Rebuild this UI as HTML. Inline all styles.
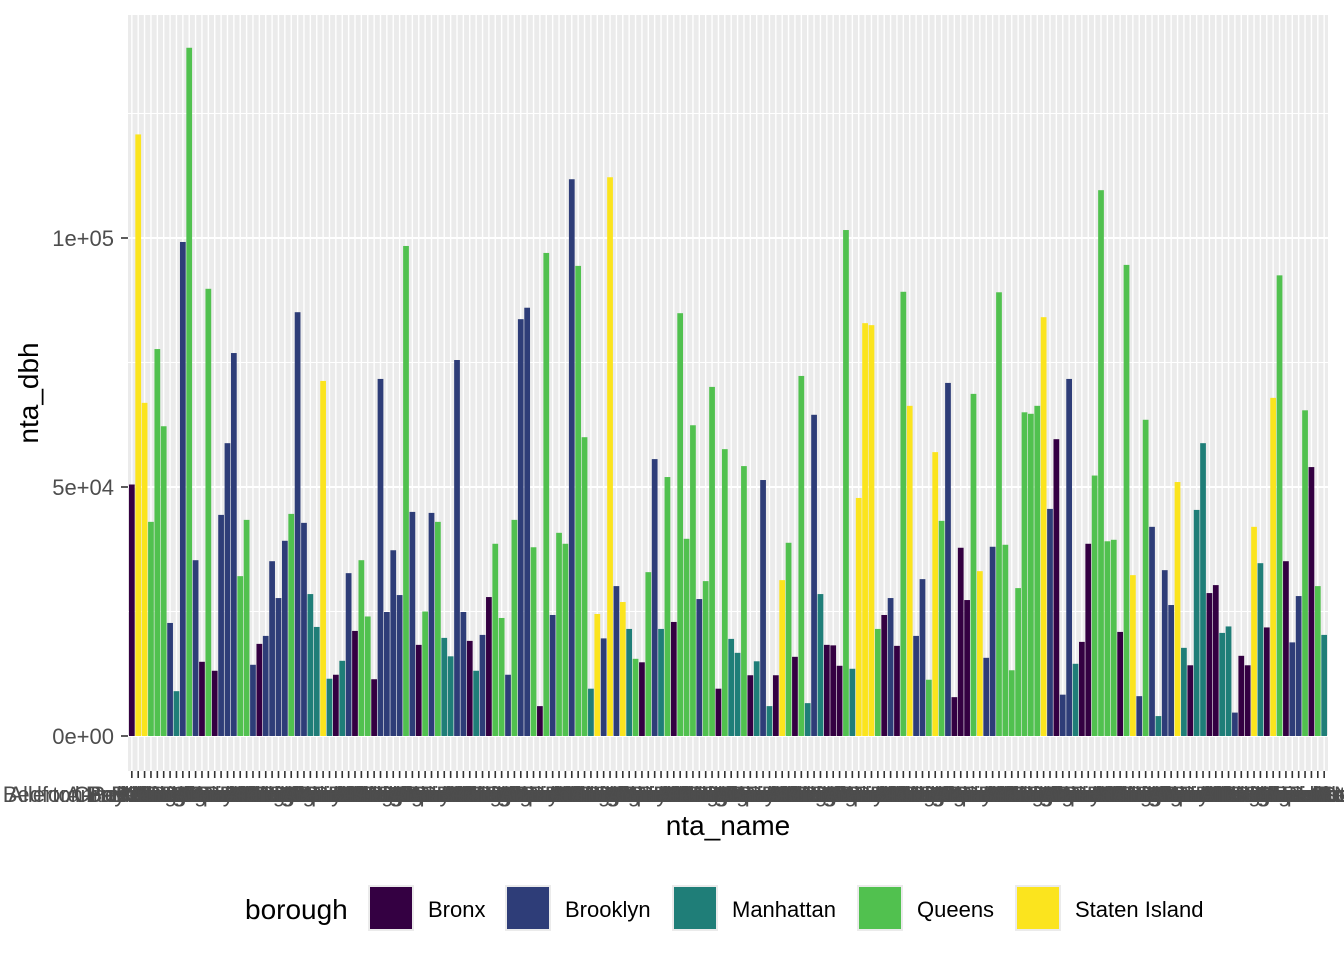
<!DOCTYPE html>
<html><head><meta charset="utf-8"><style>
html,body{margin:0;padding:0;background:#fff;}
svg{display:block;font-family:"Liberation Sans",sans-serif;}
</style></head><body>
<svg id="chart" width="1344" height="960" viewBox="0 0 1344 960">
<rect x="128" y="15" width="1200" height="756" fill="#ebebeb"/>
<g id="grid"></g><g id="bars"></g><g id="xaxis"></g><g id="yaxis"></g>
<text x="38" y="393" font-size="28" fill="#000" text-anchor="middle" transform="rotate(-90 38 393)">nta_dbh</text>
<text x="728" y="835" font-size="28" fill="#000" text-anchor="middle">nta_name</text>
<g id="legend">
<text x="245" y="919" font-size="28" fill="#000">borough</text>
</g>
</svg>
<script>
const boroughs = ["Bronx","Brooklyn","Manhattan","Queens","Staten Island"];
const colors = {"Bronx":"#340042","Brooklyn":"#2e3d78","Manhattan":"#1f7e78","Queens":"#51c14f","Staten Island":"#fbe41e"};
const yTicks = [0, 50000, 100000];
const yTickLabels = ["0e+00","5e+04","1e+05"];
const barBorough = ("X S S Q Q Q K M K Q K X Q X K K K Q Q K X K K K K Q K K M M S M X " +
 "M K X Q Q X K K K K Q K X Q K Q M M K K X M K X Q Q K Q K K Q X " +
 "Q K Q Q K Q Q M S K S K S M Q X Q K M Q X Q Q Q K Q Q X Q M M Q " +
 "X M K M X S Q X Q M K M X X X Q M S S S Q X K X Q S K K Q S Q K " +
 "X X X Q S K K Q Q Q Q Q Q Q S K X K K M X X Q Q Q Q X Q S K Q K M " +
 "K K S M X M M X X M M K X X S M X S Q X K K Q X Q M").trim().split(/\s+/);
const barValues = [
 50.5,120.8,66.9,43.0,77.7,62.2,22.7,9.0,99.2,138.2,35.3,14.9,89.8,13.1,44.4,58.8,76.9,32.1,43.4,14.3,18.5,20.1,35.1,27.7,39.2,44.6,85.1,42.8,28.5,21.9,71.3,11.5,12.3,
 15.1,32.7,21.1,35.3,24.0,11.4,71.7,24.9,37.3,28.3,98.4,45.0,18.3,25.0,44.8,43.0,19.7,16.0,75.5,24.9,19.1,13.1,20.3,27.9,38.6,23.7,12.3,43.4,83.7,86.0,37.9,6.0,
 97.0,24.3,40.8,38.6,111.8,94.4,60.0,9.5,24.5,19.6,112.2,30.1,26.9,21.5,15.5,14.8,32.9,55.6,21.5,52.0,22.9,84.9,39.6,62.4,27.5,31.1,70.1,9.5,57.6,19.5,16.7,54.2,
 12.2,15.0,51.4,6.0,12.2,31.3,38.8,15.9,72.3,6.6,64.5,28.5,18.3,18.2,14.1,101.6,13.5,47.8,82.9,82.5,21.5,24.3,27.7,18.1,89.2,66.3,20.1,31.5,11.3,57.0,43.2,70.9,
 7.8,37.8,27.3,68.7,33.1,15.7,38.0,89.1,38.4,13.2,29.7,65.0,64.7,66.3,84.1,45.6,59.6,8.3,71.7,14.5,18.9,38.6,52.3,109.6,39.1,39.4,20.9,94.6,32.3,8.0,63.5,42.0,4.0,
 33.3,26.3,51.0,17.7,14.2,45.4,58.8,28.7,30.3,20.7,22.0,4.7,16.1,14.2,42.0,34.7,21.8,67.9,92.5,35.1,18.8,28.1,65.4,54.0,30.1,20.3
].map(v => v * 1000);
const codeMap = {X:"Bronx",K:"Brooklyn",M:"Manhattan",Q:"Queens",S:"Staten Island"};
const nameWords = ["Allerton-Pelham Gardens","Bay Ridge","Bedford Park-Fordham North","Astoria","Bellerose","Annadale-Huguenot","Canarsie","Chinatown","Borough Park","Auburndale","Bath Beach","Belmont","Airport","Bronxdale","Brighton Beach","Bushwick North","Carroll Gardens-Columbia Street"];

const NS = "http://www.w3.org/2000/svg";
const X0 = 128, X1 = 1328, Y0 = 736, YTOP = 15, PBOT = 771;
const n = barValues.length;
const unit = (X1 - X0) / (n - 1 + 1.2);
function xScale(i){ return X0 + (i + 0.6) * unit; }
function yScale(v){ return Y0 - v / 100000 * 498; }
function mk(tag, attrs, parent){ const e = document.createElementNS(NS, tag); for (const k in attrs) e.setAttribute(k, attrs[k]); parent.appendChild(e); return e; }

const grid = document.getElementById("grid");
[25000, 75000, 125000].forEach(v => {
  const l = mk("line", {x1:X0, x2:X1, y1:yScale(v), y2:yScale(v), stroke:"#fff", "stroke-width":1}, grid);
  
  
});
yTicks.forEach(v => {
  const l = mk("line", {x1:X0, x2:X1, y1:yScale(v), y2:yScale(v), stroke:"#fff", "stroke-width":2}, grid);
  
  
});
for (let i = 0; i < n; i++) {
  const l = mk("line", {x1:xScale(i), x2:xScale(i), y1:YTOP, y2:PBOT, stroke:"#fff", "stroke-width":1.4}, grid);
  
  
}

const bars = document.getElementById("bars");
const bw = unit * 0.9;
for (let i = 0; i < n; i++) {
  const b = codeMap[barBorough[i]] || "Queens";
  const v = barValues[i];
  const r = mk("rect", {x:xScale(i) - bw/2, y:yScale(v), width:bw, height:Y0 - yScale(v), fill:colors[b]}, bars);
  
  
}

const xaxis = document.getElementById("xaxis");
for (let i = 0; i < n; i++) {
  const t = mk("line", {x1:xScale(i), x2:xScale(i), y1:PBOT, y2:PBOT + 7, stroke:"#333", "stroke-width":1.6}, xaxis);
  
  
  const lb = mk("text", {x:xScale(i), y:802, "font-size":22, fill:"#4d4d4d", "text-anchor":"middle"}, xaxis);
  lb.textContent = nameWords[i % nameWords.length];
  
  
}

const yaxis = document.getElementById("yaxis");
yTicks.forEach((v, k) => {
  const t = mk("line", {x1:X0 - 7, x2:X0, y1:yScale(v), y2:yScale(v), stroke:"#333", "stroke-width":1.6}, yaxis);
  
  
  const lb = mk("text", {x:X0 - 14, y:yScale(v) + 8, "font-size":22, fill:"#4d4d4d", "text-anchor":"end"}, yaxis);
  lb.textContent = yTickLabels[k];
  
  
});

const legend = document.getElementById("legend");
const keyX = [368, 505, 672, 857, 1015];
boroughs.forEach((b, k) => {
  const bg = mk("rect", {x:keyX[k], y:885, width:46, height:46, fill:"#ebebeb"}, legend);
  
  
  const sw = mk("rect", {x:keyX[k] + 2, y:887, width:42, height:42, fill:colors[b]}, legend);
  
  
  const lb = mk("text", {x:keyX[k] + 60, y:917, "font-size":22, fill:"#000"}, legend);
  lb.textContent = b;
  
  
});
</script>
</body></html>
